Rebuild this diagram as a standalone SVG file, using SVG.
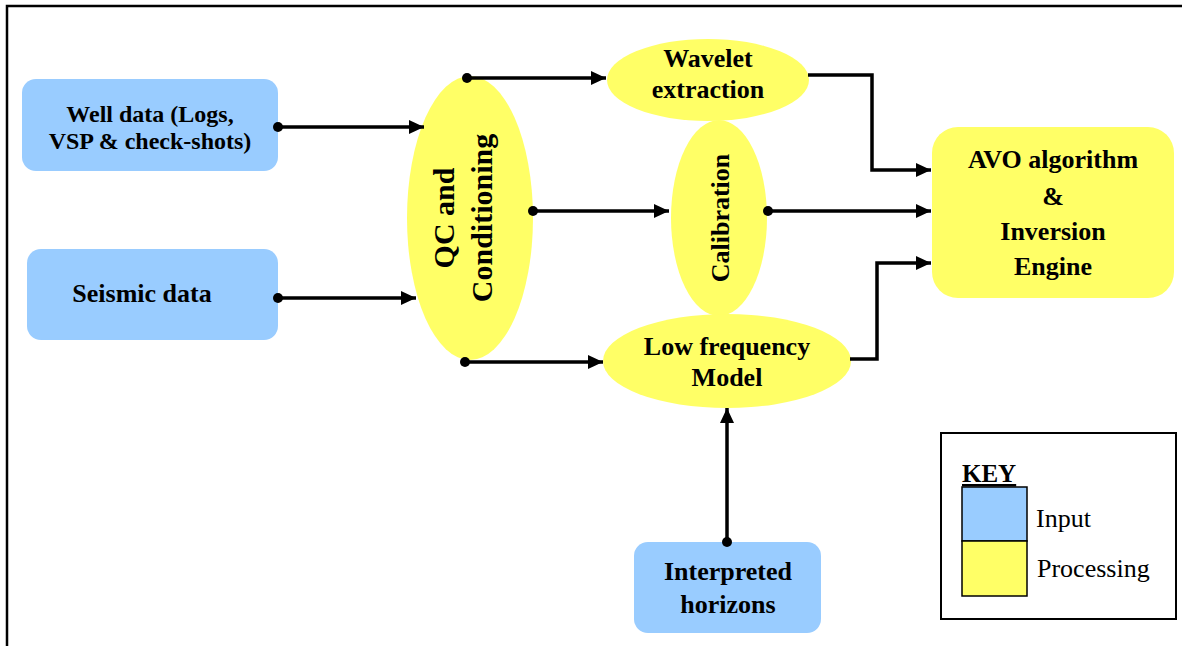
<svg xmlns="http://www.w3.org/2000/svg" width="1182" height="646" viewBox="0 0 1182 646">
  <style>
    .input { fill: #99CCFF; }
    .proc { fill: #FFFF66; }
    .lbl { font-family: "Liberation Serif", "Times New Roman", serif; font-weight: bold; font-size: 26px; fill: #000; text-anchor: middle; }
    .key { font-family: "Liberation Serif", "Times New Roman", serif; font-size: 26px; fill: #000; }
    .wire { fill: none; stroke: #000; stroke-width: 3.5; stroke-linejoin: miter; }
    .dot { fill: #000; }
  </style>
  <defs>
    <marker id="arrow" markerUnits="userSpaceOnUse" markerWidth="16" markerHeight="15" refX="15" refY="7" orient="auto">
      <path d="M0,0 L15,7 L0,14 z" fill="#000"/>
    </marker>
  </defs>

  <rect width="1182" height="646" fill="#fff"/>
  <!-- page frame -->
  <path d="M7,646 L7,6 L1182,6" fill="none" stroke="#000" stroke-width="2.5"/>

  <!-- input boxes -->
  <g id="well-data">
    <rect class="input" x="22" y="79" width="256" height="92" rx="14"/>
    <text class="lbl" x="150" y="122" style="font-size:24px">Well data (Logs,</text>
    <text class="lbl" x="150" y="149" style="font-size:24px">VSP &amp; check-shots)</text>
  </g>
  <g id="seismic-data">
    <rect class="input" x="27" y="249" width="251" height="91" rx="14"/>
    <text class="lbl" x="142" y="302">Seismic data</text>
  </g>
  <g id="interpreted-horizons">
    <rect class="input" x="634" y="542" width="187" height="91" rx="14"/>
    <text class="lbl" x="728" y="580">Interpreted</text>
    <text class="lbl" x="728" y="613">horizons</text>
  </g>

  <!-- processing nodes -->
  <g id="qc-conditioning">
    <ellipse class="proc" cx="470" cy="218" rx="63" ry="142"/>
    <text class="lbl" transform="translate(454,218) rotate(-90)" style="font-size:30px">QC and</text>
    <text class="lbl" transform="translate(492,218) rotate(-90)" style="font-size:30px">Conditioning</text>
  </g>
  <g id="calibration">
    <ellipse class="proc" cx="719" cy="218" rx="48" ry="98"/>
    <text class="lbl" transform="translate(729,218) rotate(-90)">Calibration</text>
  </g>
  <g id="wavelet-extraction">
    <ellipse class="proc" cx="708" cy="80" rx="101" ry="41"/>
    <text class="lbl" x="708" y="67">Wavelet</text>
    <text class="lbl" x="708" y="98">extraction</text>
  </g>
  <g id="low-frequency-model">
    <ellipse class="proc" cx="727" cy="361" rx="124" ry="47"/>
    <text class="lbl" x="727" y="355">Low frequency</text>
    <text class="lbl" x="727" y="386">Model</text>
  </g>
  <g id="avo-inversion">
    <rect class="proc" x="932" y="127" width="242" height="171" rx="26"/>
    <text class="lbl" x="1053" y="168">AVO algorithm</text>
    <text class="lbl" x="1053" y="205">&amp;</text>
    <text class="lbl" x="1053" y="240">Inversion</text>
    <text class="lbl" x="1053" y="275">Engine</text>
  </g>

  <!-- connectors, drawn over the nodes so the start dots stay whole -->
  <g id="connectors">
    <path class="wire" d="M278,127 L424,127" marker-end="url(#arrow)"/>
    <circle class="dot" cx="278" cy="127" r="5"/>
    <path class="wire" d="M278,298 L416,298" marker-end="url(#arrow)"/>
    <circle class="dot" cx="278" cy="298" r="5"/>
    <path class="wire" d="M467,78 L606,78" marker-end="url(#arrow)"/>
    <circle class="dot" cx="467" cy="78" r="5"/>
    <path class="wire" d="M533,211 L669,211" marker-end="url(#arrow)"/>
    <circle class="dot" cx="533" cy="211" r="5"/>
    <path class="wire" d="M465,362 L603,362" marker-end="url(#arrow)"/>
    <circle class="dot" cx="465" cy="362" r="5"/>
    <path class="wire" d="M808,75 L872,75 L872,170 L931,170" marker-end="url(#arrow)"/>
    <path class="wire" d="M768,211 L931,211" marker-end="url(#arrow)"/>
    <circle class="dot" cx="768" cy="211" r="5"/>
    <path class="wire" d="M850,359 L877,359 L877,263 L931,263" marker-end="url(#arrow)"/>
    <path class="wire" d="M727,542 L727,408" marker-end="url(#arrow)"/>
    <circle class="dot" cx="727" cy="542" r="5"/>
  </g>

  <!-- legend -->
  <g id="key">
    <rect x="941" y="433" width="235" height="186" fill="#fff" stroke="#000" stroke-width="2"/>
    <text class="key" x="962" y="482" style="font-weight:bold;font-size:25px;text-decoration:underline">KEY</text>
    <rect x="962" y="487" width="65" height="54" fill="#99CCFF" stroke="#000" stroke-width="1.5"/>
    <rect x="962" y="541" width="65" height="55" fill="#FFFF66" stroke="#000" stroke-width="1.5"/>
    <text class="key" x="1036" y="527">Input</text>
    <text class="key" x="1037" y="577">Processing</text>
  </g>
</svg>
